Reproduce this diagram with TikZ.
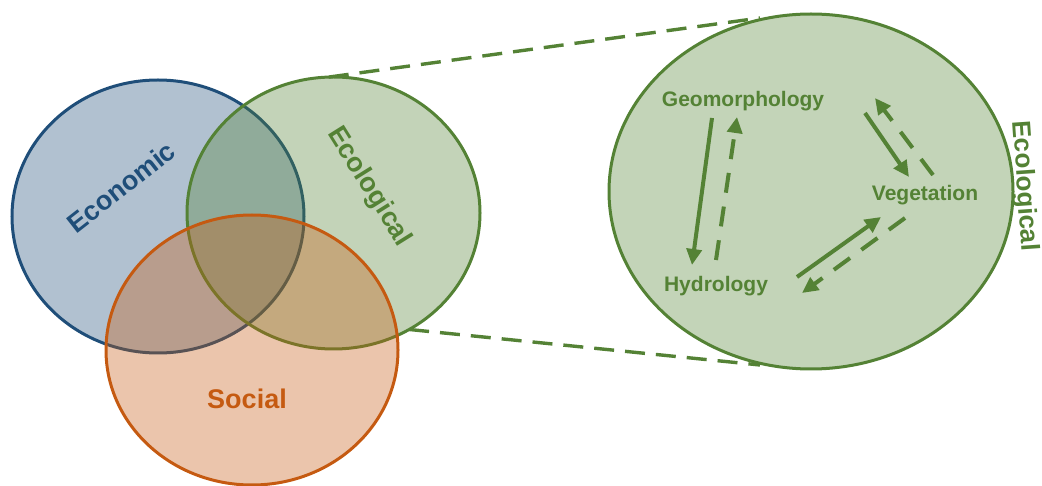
\documentclass[tikz,border=0pt]{standalone}
\usepackage{fontspec}
\setmainfont{Liberation Sans}
\usetikzlibrary{shapes.geometric,arrows.meta}
\definecolor{econ}{HTML}{1F4E79}
\definecolor{eco}{HTML}{548235}
\definecolor{soc}{HTML}{C55A11}
\definecolor{ecofill}{RGB}{195,212,184}
\begin{document}
\begin{tikzpicture}[x=1pt,y=-1pt,
  venn/.style={ellipse,draw=#1,fill=#1,fill opacity=0.35,line width=3pt,inner sep=0pt,outer sep=0pt},
  biglabel/.style={text=#1,font=\fontsize{27}{32}\selectfont\bfseries,inner sep=0pt},
  smalllabel/.style={text=eco,font=\fontsize{21}{25}\selectfont\bfseries,inner sep=0pt,anchor=base},
  zoomline/.style={draw=eco,line width=3.4pt,dash pattern=on 20pt off 11pt},
  flow/.style={draw=eco,line width=4pt,-{Triangle[length=16pt,width=15pt]}},
  backflow/.style={flow,dash pattern=on 20pt off 14pt}]
\useasboundingbox (0,0) rectangle (1042,486);

% three overlapping sustainability domains
\node[venn=econ,minimum width=292pt,minimum height=273pt] (econ) at (158,216.5) {};
\node[venn=eco,minimum width=293pt,minimum height=272pt] (eco) at (333.5,213) {};
\node[venn=soc,minimum width=292pt,minimum height=270pt] (soc) at (252,350) {};

\node[biglabel=econ,rotate=38] (econlabel) at (121,187) {Economic};
\node[biglabel=eco,rotate=-58] (ecolabel) at (369,187) {Ecological};
\node[biglabel=soc,anchor=base] (soclabel) at (247,408) {Social};

% enlarged view of the ecological domain
\draw[zoomline] (eco.92) -- (760,18) coordinate (bigtop);
\draw[zoomline] (eco.-57) -- (760,365) coordinate (bigbottom);
\node[ellipse,draw=eco,fill=ecofill,line width=3pt,inner sep=0pt,outer sep=0pt,
      minimum width=404pt,minimum height=355pt] (big) at (811,191.5) {};
\node[text=eco,font=\fontsize{26}{30}\selectfont\bfseries,inner sep=0pt,rotate=-86]
      (bigecolabel) at (1024,186) {Ecological};

\node[smalllabel] (geo) at (743,107) {Geomorphology};
\node[smalllabel] (hyd) at (716,292) {Hydrology};
\node[smalllabel] (veg) at (925,201) {Vegetation};

% feedback arrows between the components
\coordinate (g1) at (712,118); \coordinate (h1) at (692,265);
\coordinate (h2) at (716,260); \coordinate (g2) at (737,117);
\coordinate (g3) at (865,113); \coordinate (v3) at (909,177);
\coordinate (v4) at (933,175); \coordinate (g4) at (875,98);
\coordinate (h5) at (797,277); \coordinate (v5) at (881,217);
\coordinate (v6) at (905,218); \coordinate (h6) at (802,293);
\draw[flow] (g1) -- (h1);
\draw[backflow] (h2) -- (g2);
\draw[flow] (g3) -- (v3);
\draw[backflow] (v4) -- (g4);
\draw[flow] (h5) -- (v5);
\draw[backflow] (v6) -- (h6);
\end{tikzpicture}
\end{document}
